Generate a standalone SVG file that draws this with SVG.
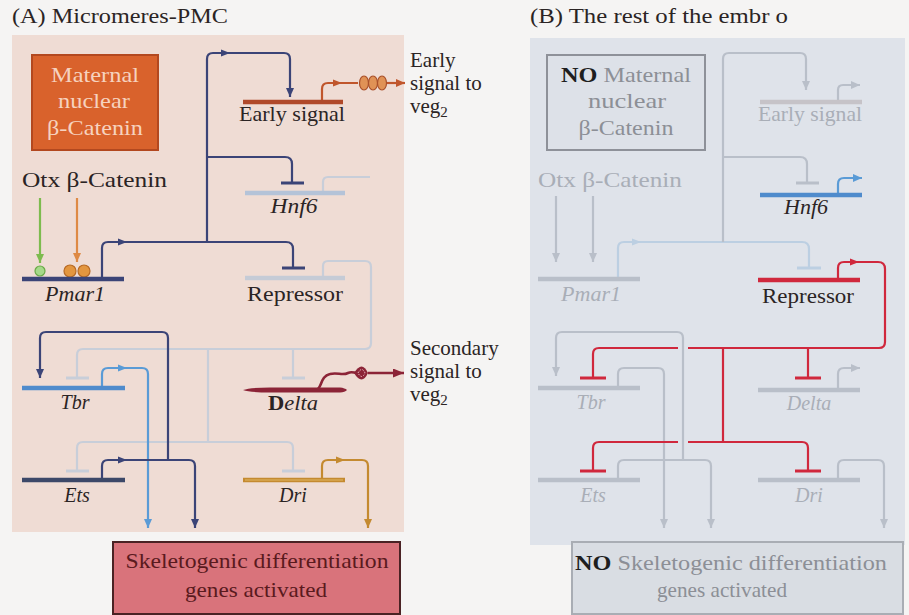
<svg xmlns="http://www.w3.org/2000/svg" width="909" height="615" viewBox="0 0 909 615">
  <defs>
    <style>
      text { font-family: "Liberation Serif", "Times New Roman", serif; font-size: 21px; fill: #2b2424; }
      .gene { font-style: italic; font-size: 20px; }
      .dim { fill: #a9aeb7; }
      .ln { fill: none; stroke-width: 2.2; stroke-linejoin: round; stroke-linecap: butt; }
      .navy { stroke: #3b4477; }
      .blue { stroke: #5a9bd6; }
      .ered { stroke: #c0562c; }
      .gold { stroke: #c48a30; }
      .pale { stroke: #c8ced9; }
      .grey { stroke: #b9bfc9; }
      .pblue { stroke: #bccfe2; }
      .red { stroke: #d0283d; }
      .bar { stroke-width: 4.5; stroke-linecap: butt; }
      .tbar { stroke-width: 3; }
    </style>
    <marker id="aNavy" markerUnits="userSpaceOnUse" markerWidth="10" markerHeight="8" refX="9" refY="4" orient="auto"><path d="M0,0 L9,4 L0,8 z" fill="#3b4477"/></marker>
    <marker id="aBlue" markerUnits="userSpaceOnUse" markerWidth="10" markerHeight="8" refX="9" refY="4" orient="auto"><path d="M0,0 L9,4 L0,8 z" fill="#5a9bd6"/></marker>
    <marker id="aEred" markerUnits="userSpaceOnUse" markerWidth="10" markerHeight="8" refX="9" refY="4" orient="auto"><path d="M0,0 L9,4 L0,8 z" fill="#c0562c"/></marker>
    <marker id="aGold" markerUnits="userSpaceOnUse" markerWidth="10" markerHeight="8" refX="9" refY="4" orient="auto"><path d="M0,0 L9,4 L0,8 z" fill="#c48a30"/></marker>
    <marker id="aGreen" markerUnits="userSpaceOnUse" markerWidth="10" markerHeight="8" refX="9" refY="4" orient="auto"><path d="M0,0 L9,4 L0,8 z" fill="#7dbb4e"/></marker>
    <marker id="aOrange" markerUnits="userSpaceOnUse" markerWidth="10" markerHeight="8" refX="9" refY="4" orient="auto"><path d="M0,0 L9,4 L0,8 z" fill="#de8a45"/></marker>
    <marker id="aDelta" markerUnits="userSpaceOnUse" markerWidth="12" markerHeight="9" refX="11" refY="4.5" orient="auto"><path d="M0,0 L11,4.5 L0,9 z" fill="#8c2437"/></marker>
    <marker id="aGrey" markerUnits="userSpaceOnUse" markerWidth="10" markerHeight="8" refX="9" refY="4" orient="auto"><path d="M0,0 L9,4 L0,8 z" fill="#b9bfc9"/></marker>
  </defs>

  <!-- page and panel backgrounds -->
  <rect width="909" height="615" fill="#f5f4f3"/>
  <rect id="panelA" x="12" y="35" width="392" height="497" fill="#efdcd4"/>
  <rect id="panelB" x="530" y="38" width="375" height="507" fill="#dfe3ea"/>

  <!-- panel titles -->
  <text x="12" y="23" textLength="216" lengthAdjust="spacingAndGlyphs">(A)  Micromeres-PMC</text>
  <text x="530" y="23" textLength="258" lengthAdjust="spacingAndGlyphs">(B)  The rest of the embr  o</text>

  <!-- ============ connectors ============ -->
  <g id="connectors">
    <!-- Panel A: inactive (faded) wiring -->
    <path class="ln pale" d="M323,193 V182 Q323,177 328,177 H370"/>
    <path class="ln pale" d="M323,278 V266 Q323,261 328,261 H365 Q371,261 371,267 V343 Q371,349 365,349 H83 Q77,349 77,355 V377"/>
    <path class="ln pale" d="M293,349 V377"/>
    <path class="ln pale" d="M208,349 V442"/>
    <path class="ln pale" d="M77,470 V448 Q77,442 83,442 H287 Q293,442 293,448 V470"/>
    <line class="ln pale tbar" x1="66" y1="378" x2="89" y2="378"/>
    <line class="ln pale tbar" x1="282" y1="378" x2="305" y2="378"/>
    <line class="ln pale tbar" x1="66" y1="471" x2="89" y2="471"/>
    <line class="ln pale tbar" x1="282" y1="471" x2="305" y2="471"/>

    <!-- Panel A: Pmar1 output trunk -->
    <path class="ln navy" d="M102,279 V248 Q102,242 108,242 H286 Q293,242 293,249 V268"/>
    <path fill="#3b4477" d="M118,238.5 L127,242 L118,245.5 z"/>
    <line class="ln navy tbar" x1="282" y1="268" x2="305" y2="268"/>
    <path class="ln navy" d="M207,242 V59 Q207,53 213,53 H284 Q290,53 290,59 V97" marker-end="url(#aNavy)"/>
    <path fill="#3b4477" d="M221,49.5 L230,53 L221,56.5 z"/>
    <path class="ln navy" d="M207,157 H285 Q292,157 292,164 V183"/>
    <line class="ln navy tbar" x1="281" y1="183" x2="304" y2="183"/>

    <!-- Otx and beta-Catenin inputs -->
    <path class="ln" stroke="#7dbb4e" d="M40,198 V263" marker-end="url(#aGreen)"/>
    <path class="ln" stroke="#de8a45" d="M77,198 V262" marker-end="url(#aOrange)"/>

    <!-- Early signal output -->
    <path class="ln ered" d="M322,102 V89 Q322,83 328,83 H358"/>
    <path fill="#c0562c" d="M333,79.5 L342,83 L333,86.5 z"/>
    <path class="ln ered" d="M387,83 H405" marker-end="url(#aEred)"/>

    <!-- Tbr output -->
    <path class="ln blue" d="M102,388 V374 Q102,368 108,368 H142 Q148,368 148,374 V528" marker-end="url(#aBlue)"/>
    <path fill="#5a9bd6" d="M118,364.5 L127,368 L118,371.5 z"/>

    <!-- Ets output, feeding Tbr and differentiation genes -->
    <path class="ln navy" d="M168,460 V338 Q168,332 162,332 H46 Q40,332 40,338 V378" marker-end="url(#aNavy)"/>
    <path class="ln navy" d="M102,480 V466 Q102,460 108,460 H189 Q195,460 195,466 V528" marker-end="url(#aNavy)"/>
    <path fill="#3b4477" d="M118,456.5 L127,460 L118,463.5 z"/>

    <!-- Delta output (secondary signal) -->
    <path fill="none" stroke="#8c2437" stroke-width="2.6" d="M316,390 C322,389 320,376 330,374 C338,372 342,376 348,373 C352,371 354,373 356,373"/>
    <path fill="#8c2437" d="M354,373 Q362,360 368,373 Q362,386 354,373 z"/>
    <path fill="none" stroke="#f3c5cc" stroke-width="1" stroke-dasharray="1.5 1.5" d="M358,373 Q362,366 365,373 Q362,380 358,373"/>
    <path fill="none" stroke="#8c2437" stroke-width="2.6" d="M368,373 H404" marker-end="url(#aDelta)"/>

    <!-- Dri output -->
    <path class="ln gold" d="M322,480 V466 Q322,460 328,460 H362 Q368,460 368,466 V528" marker-end="url(#aGold)"/>
    <path fill="#c48a30" d="M336,456.5 L345,460 L336,463.5 z"/>

    <!-- Panel B: inactive wiring -->
    <path class="ln grey" d="M556,196 V262" marker-end="url(#aGrey)"/>
    <path class="ln grey" d="M593,196 V262" marker-end="url(#aGrey)"/>
    <path class="ln pblue" d="M618,279 V248 Q618,242 624,242 H802 Q809,242 809,249 V268"/>
    <path fill="#bccfe2" d="M632,238.5 L641,242 L632,245.5 z"/>
    <line class="ln pblue tbar" x1="797" y1="268" x2="821" y2="268"/>
    <path class="ln grey" d="M723,242 V59 Q723,53 729,53 H800 Q806,53 806,59 V90" marker-end="url(#aGrey)"/>
    <path class="ln grey" d="M723,157 H800 Q807,157 807,164 V183"/>
    <line class="ln grey tbar" x1="796" y1="183" x2="819" y2="183"/>
    <path class="ln grey" d="M838,102 V90 Q838,85 843,85 H860" marker-end="url(#aGrey)"/>
    <path class="ln grey" d="M838,390 V374 Q838,368 844,368 H860" marker-end="url(#aGrey)"/>
    <path class="ln grey" d="M838,480 V466 Q838,460 844,460 H878 Q884,460 884,466 V528" marker-end="url(#aGrey)"/>
    <path class="ln grey" d="M618,388 V374 Q618,368 624,368 H658 Q664,368 664,374 V528" marker-end="url(#aGrey)"/>
    <path class="ln grey" d="M618,480 V466 Q618,460 624,460 H705 Q711,460 711,466 V528" marker-end="url(#aGrey)"/>

    <!-- Panel B: Hnf6 output -->
    <path class="ln blue" d="M838,195 V184 Q838,178 844,178 H862" marker-end="url(#aBlue)"/>

    <!-- Panel B: Repressor output blocking the skeletogenic genes -->
    <path class="ln red" d="M838,280 V268 Q838,262 844,262 H878 Q885,262 885,269 V342 Q885,348 879,348 H599 Q593,348 593,354 V377"/>
    <path fill="#d0283d" d="M850,258.5 L859,262 L850,265.5 z"/>
    <path class="ln red" d="M808,348 V377"/>
    <path class="ln red" d="M723,348 V442"/>
    <path class="ln red" d="M593,470 V448 Q593,442 599,442 H802 Q808,442 808,448 V470"/>
    <line class="ln red tbar" x1="580" y1="378" x2="606" y2="378"/>
    <line class="ln red tbar" x1="795" y1="378" x2="821" y2="378"/>
    <line class="ln red tbar" x1="580" y1="471" x2="606" y2="471"/>
    <line class="ln red tbar" x1="795" y1="471" x2="821" y2="471"/>
    <!-- crossing gaps where the grey line passes over -->
    <rect x="678" y="345" width="10" height="6" fill="#dfe3ea"/>
    <rect x="678" y="439" width="10" height="6" fill="#dfe3ea"/>
    <path class="ln grey" d="M683,460 V338 Q683,332 677,332 H562 Q556,332 556,338 V376" marker-end="url(#aGrey)"/>
  </g>

  <!-- ============ Panel A nodes ============ -->
  <g id="A-maternal">
    <rect x="32" y="55" width="126" height="95" fill="#d9622c" stroke="#b3481f" stroke-width="2"/>
    <text x="95" y="82" text-anchor="middle" textLength="88" lengthAdjust="spacingAndGlyphs" style="fill:#f6d2bf">Maternal</text>
    <text x="94" y="108" text-anchor="middle" textLength="72" lengthAdjust="spacingAndGlyphs" style="fill:#f6d2bf">nuclear</text>
    <text x="95" y="135" text-anchor="middle" textLength="96" lengthAdjust="spacingAndGlyphs" style="fill:#f6d2bf">β-Catenin</text>
  </g>
  <g id="A-inputs">
    <text x="22" y="187" textLength="145" lengthAdjust="spacingAndGlyphs">Otx  β-Catenin</text>
    <circle cx="40" cy="271" r="5" fill="#a6d98a" stroke="#6aaa48" stroke-width="1.2"/>
    <circle cx="70" cy="271" r="6" fill="#e3963f" stroke="#b86a24" stroke-width="1.2"/>
    <circle cx="84" cy="271" r="6" fill="#e3963f" stroke="#b86a24" stroke-width="1.2"/>
  </g>
  <g id="A-pmar1">
    <line class="bar" stroke="#3b4477" x1="22" y1="279" x2="124" y2="279"/>
    <text class="gene" x="75" y="301" text-anchor="middle" textLength="60" lengthAdjust="spacingAndGlyphs">Pmar1</text>
  </g>
  <g id="A-early">
    <line class="bar" stroke="#b0492a" x1="243" y1="102" x2="343" y2="102"/>
    <text x="239" y="121" textLength="106" lengthAdjust="spacingAndGlyphs">Early signal</text>
    <ellipse cx="364" cy="83" rx="4.5" ry="7" fill="#e09256" stroke="#a9502a" stroke-width="1.2"/>
    <ellipse cx="373" cy="83" rx="4.5" ry="7" fill="#e09256" stroke="#a9502a" stroke-width="1.2"/>
    <ellipse cx="382" cy="83" rx="4.5" ry="7" fill="#e09256" stroke="#a9502a" stroke-width="1.2"/>
    <text x="410" y="67">Early</text>
    <text x="410" y="90">signal to</text>
    <text x="410" y="113">veg<tspan font-size="15" dy="4">2</tspan></text>
  </g>
  <g id="A-hnf6">
    <line class="bar" stroke="#b4c3d8" x1="245" y1="193" x2="345" y2="193" stroke-width="3.5"/>
    <text class="gene" x="294" y="213" text-anchor="middle" textLength="47" lengthAdjust="spacingAndGlyphs">Hnf6</text>
  </g>
  <g id="A-repressor">
    <line class="bar" stroke="#c5cbd6" x1="245" y1="278" x2="345" y2="278" stroke-width="3.5"/>
    <text x="295" y="301" text-anchor="middle" textLength="96" lengthAdjust="spacingAndGlyphs">Repressor</text>
  </g>
  <g id="A-tbr">
    <line class="bar" stroke="#4f8bcc" x1="22" y1="388" x2="125" y2="388"/>
    <text class="gene" x="75" y="409" text-anchor="middle">Tbr</text>
  </g>
  <g id="A-delta">
    <path fill="#8c2437" d="M243,390 Q250,387.5 270,387.5 H340 Q345,388 347,390 Q345,392 340,392.5 H270 Q250,392.5 243,390 z"/>
    <text class="gene" x="293" y="410" text-anchor="middle" textLength="50" lengthAdjust="spacingAndGlyphs"><tspan font-weight="bold" font-style="normal">D</tspan>elta</text>
    <text x="410" y="355">Secondary</text>
    <text x="410" y="378">signal to</text>
    <text x="410" y="401">veg<tspan font-size="15" dy="4">2</tspan></text>
  </g>
  <g id="A-ets">
    <line class="bar" stroke="#3c4868" x1="22" y1="480" x2="125" y2="480"/>
    <text class="gene" x="77" y="502" text-anchor="middle">Ets</text>
  </g>
  <g id="A-dri">
    <line class="bar" stroke="#c48a30" x1="243" y1="480" x2="345" y2="480" stroke-width="5"/>
    <line stroke="#e2b865" stroke-width="1.2" x1="245" y1="480" x2="343" y2="480"/>
    <text class="gene" x="293" y="502" text-anchor="middle">Dri</text>
  </g>
  <g id="A-skeletogenic">
    <rect x="113" y="542" width="287" height="72" fill="#d9737b" stroke="#4a2224" stroke-width="2"/>
    <text x="257" y="568" text-anchor="middle" textLength="263" lengthAdjust="spacingAndGlyphs" style="fill:#5a1a1e">Skeletogenic differentiation</text>
    <text x="256" y="597" text-anchor="middle" textLength="142" lengthAdjust="spacingAndGlyphs" style="fill:#5a1a1e">genes activated</text>
  </g>

  <!-- ============ Panel B nodes ============ -->
  <g id="B-maternal">
    <rect x="547" y="55" width="158" height="95" fill="#dde1e8" stroke="#8e9199" stroke-width="2"/>
    <text x="626" y="82" text-anchor="middle" textLength="130" lengthAdjust="spacingAndGlyphs"><tspan font-weight="bold" style="fill:#1e1e1e">NO</tspan><tspan style="fill:#8c8f96"> Maternal</tspan></text>
    <text x="627" y="108" text-anchor="middle" textLength="78" lengthAdjust="spacingAndGlyphs" style="fill:#8c8f96">nuclear</text>
    <text x="626" y="135" text-anchor="middle" textLength="95" lengthAdjust="spacingAndGlyphs" style="fill:#8c8f96">β-Catenin</text>
  </g>
  <g id="B-inputs">
    <text class="dim" x="538" y="187" textLength="144" lengthAdjust="spacingAndGlyphs">Otx  β-Catenin</text>
  </g>
  <g id="B-pmar1">
    <line class="bar" stroke="#b9bfc9" x1="538" y1="279" x2="640" y2="279" stroke-width="3"/>
    <text class="gene dim" x="591" y="301" text-anchor="middle" textLength="60" lengthAdjust="spacingAndGlyphs">Pmar1</text>
  </g>
  <g id="B-early">
    <line class="bar" stroke="#c6c3c8" x1="760" y1="102" x2="862" y2="102" stroke-width="3"/>
    <text class="dim" x="758" y="121" textLength="104" lengthAdjust="spacingAndGlyphs">Early signal</text>
  </g>
  <g id="B-hnf6">
    <line class="bar" stroke="#4f8bcc" x1="760" y1="195" x2="862" y2="195"/>
    <text class="gene" x="806" y="214" text-anchor="middle" textLength="44" lengthAdjust="spacingAndGlyphs">Hnf6</text>
  </g>
  <g id="B-repressor">
    <line class="bar" stroke="#d0283d" x1="758" y1="280" x2="860" y2="280" stroke-width="5.5"/>
    <text x="808" y="303" text-anchor="middle" textLength="92" lengthAdjust="spacingAndGlyphs">Repressor</text>
  </g>
  <g id="B-tbr">
    <line class="bar" stroke="#b9bfc9" x1="538" y1="388" x2="640" y2="388" stroke-width="3"/>
    <text class="gene dim" x="591" y="409" text-anchor="middle">Tbr</text>
  </g>
  <g id="B-delta">
    <line class="bar" stroke="#b9bfc9" x1="758" y1="390" x2="860" y2="390" stroke-width="3"/>
    <text class="gene dim" x="809" y="410" text-anchor="middle">Delta</text>
  </g>
  <g id="B-ets">
    <line class="bar" stroke="#b9bfc9" x1="538" y1="480" x2="640" y2="480" stroke-width="3"/>
    <text class="gene dim" x="593" y="502" text-anchor="middle">Ets</text>
  </g>
  <g id="B-dri">
    <line class="bar" stroke="#b9bfc9" x1="758" y1="480" x2="860" y2="480" stroke-width="3"/>
    <text class="gene dim" x="809" y="502" text-anchor="middle">Dri</text>
  </g>
  <g id="B-skeletogenic">
    <rect x="572" y="542" width="331" height="72" fill="#d9dde3" stroke="#a9adb4" stroke-width="2"/>
    <text x="731" y="570" text-anchor="middle" textLength="312" lengthAdjust="spacingAndGlyphs"><tspan font-weight="bold" style="fill:#1e1e1e">NO</tspan><tspan style="fill:#8c8f96"> Skeletogenic differentiation</tspan></text>
    <text x="722" y="597" text-anchor="middle" textLength="130" lengthAdjust="spacingAndGlyphs" style="fill:#8c8f96">genes activated</text>
  </g>
</svg>
